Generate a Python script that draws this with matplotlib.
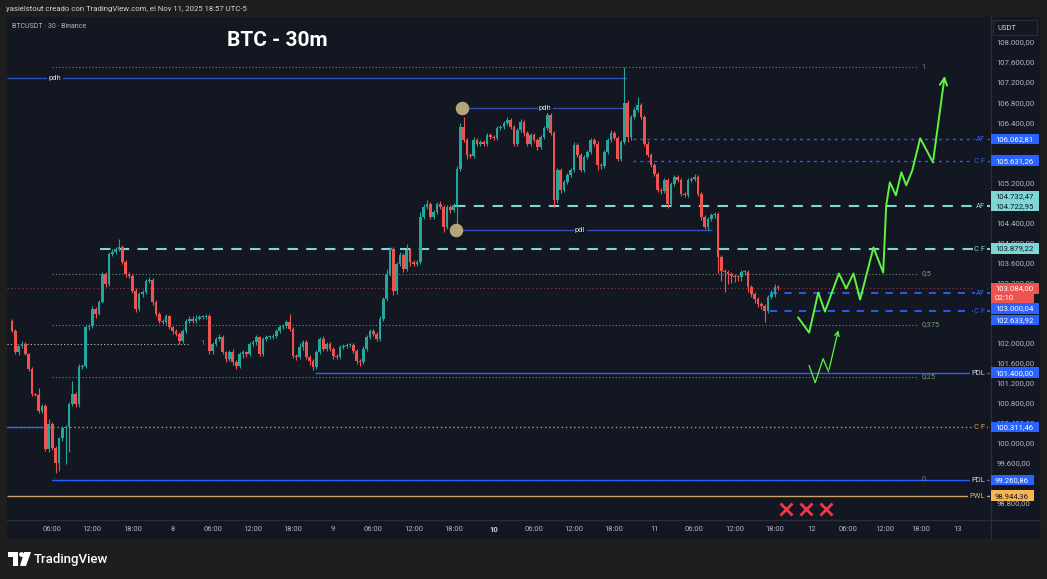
import numpy as np
import matplotlib.pyplot as plt
from matplotlib.patches import Rectangle, Polygon, Circle
from matplotlib.transforms import blended_transform_factory, offset_copy
from matplotlib.ticker import FixedLocator, FuncFormatter

plt.rcParams['font.family'] = ['Roboto', 'DejaVu Sans']

W, H = 1047, 579
OUTER = '#1e1e1e'
PANE = '#131722'
BORDER = '#2a2e39'
GREEN = '#26a69a'
RED = '#ef5350'
BLUE = '#2962ff'
CYAN = '#7fd6d6'
LIME = '#5df542'
TXT = '#b2b5be'

# velas de 30m, la primera abre el 7 nov 00:00 (hora = indice * 0.5)
first_open = 102440
closes = [
    102240, 101810, 101940, 101975, 101775, 101475, 100975, 100960, 100640, 100740,
    99875, 100375, 99905, 99605, 100105, 100305, 100320, 100775, 100975, 100775,
    101505, 101540, 102305, 102340, 102675, 102575, 102805, 103375, 103175, 103775,
    103805, 103875, 103905, 103605, 103375, 103340, 103040, 102675, 102975, 103005,
    103240, 103255, 102805, 102575, 102440, 102420, 102525, 102305, 102240, 102175,
    102040, 102240, 102440, 102475, 102440, 102475, 102505, 102520, 102525, 101840,
    101975, 102075, 102105, 101805, 101675, 101805, 101605, 101540, 101775, 101805,
    101775, 101975, 102005, 102105, 101775, 102075, 102105, 102110, 102140, 102240,
    102305, 102340, 102405, 102275, 101740, 101720, 101905, 102005, 101705, 101640,
    101505, 101805, 102075, 101875, 101975, 101875, 101740, 101705, 101905, 101940,
    101955, 101960, 101840, 101640, 101605, 101875, 102105, 102240, 102175, 102075,
    102475, 102875, 103375, 103875, 103040, 103575, 103740, 103475, 103840, 103605,
    103575, 103605, 104505, 104705, 104775, 104505, 104605, 104775, 104705, 104305,
    104705, 104640, 104740, 105475, 106305, 106040, 105740, 105720, 106040, 105975,
    106005, 105975, 106140, 106105, 106075, 106275, 106305, 106375, 106440, 106305,
    105975, 106240, 106405, 106175, 105975, 106140, 106040, 105905, 106105, 106275,
    106540, 106175, 104840, 105440, 105040, 105205, 105340, 105440, 105940, 105740,
    105440, 105705, 105805, 106040, 105975, 105540, 105520, 105805, 106040, 106175,
    106075, 105675, 106005, 106775, 106105, 106505, 106640, 106740, 106505, 105975,
    105740, 105540, 105375, 105040, 105020, 105240, 104775, 105175, 105305, 105240,
    104975, 104940, 105240, 105275, 105305, 104975, 104505, 104305, 104475, 104540,
    104575, 103700, 103440, 103405, 103375, 103340, 103320, 103305, 103405, 103420,
    103105, 102975, 102875, 102775, 102740, 102640, 102905, 102975, 103110, 103084,
]
upper_wick = [
    40, 30, 20, 60, 40, 20, 40, 20, 140, 30,
    40, 100, 40, 40, 20, 40, 30, 40, 265, 40,
    70, 40, 40, 30, 65, 40, 40, 30, 40, 40,
    60, 40, 168, 40, 40, 30, 40, 60, 40, 40,
    40, 60, 30, 40, 30, 30, 40, 30, 20, 40,
    30, 40, 40, 60, 60, 80, 40, 40, 40, 40,
    40, 40, 60, 40, 30, 40, 60, 40, 40, 40,
    30, 40, 40, 40, 30, 40, 40, 40, 40, 40,
    40, 40, 40, 165, 40, 40, 80, 40, 40, 40,
    40, 40, 40, 60, 40, 40, 40, 40, 40, 40,
    40, 40, 40, 40, 40, 60, 40, 40, 40, 40,
    60, 40, 100, 40, 40, 40, 60, 40, 120, 40,
    40, 40, 100, 60, 80, 40, 40, 40, 60, 40,
    40, 40, 40, 60, 80, 200, 40, 40, 60, 40,
    40, 40, 40, 40, 40, 40, 40, 40, 60, 40,
    40, 40, 60, 40, 40, 40, 40, 40, 40, 40,
    80, 40, 40, 40, 40, 40, 40, 40, 60, 40,
    40, 40, 40, 40, 40, 40, 40, 40, 40, 60,
    40, 40, 40, 725, 60, 40, 60, 160, 40, 40,
    40, 40, 40, 40, 40, 40, 40, 40, 40, 40,
    40, 40, 40, 40, 60, 40, 40, 40, 40, 40,
    40, 40, 40, 40, 40, 40, 40, 40, 40, 40,
    40, 40, 40, 40, 40, 40, 40, 80, 60, 40,
]
lower_wick = [
    20, 40, 60, 40, 30, 40, 30, 30, 40, 40,
    40, 60, 40, 205, 165, 60, 725, 500, 40, 60,
    60, 40, 40, 60, 40, 80, 30, 20, 60, 40,
    40, 40, 40, 40, 60, 40, 40, 60, 40, 60,
    40, 40, 60, 40, 40, 50, 40, 40, 60, 40,
    60, 40, 40, 40, 40, 40, 30, 40, 40, 60,
    60, 40, 40, 40, 60, 40, 60, 60, 40, 80,
    60, 40, 40, 60, 40, 40, 40, 40, 40, 40,
    40, 40, 40, 40, 40, 60, 40, 60, 40, 80,
    60, 40, 40, 40, 40, 40, 60, 40, 40, 40,
    40, 40, 40, 60, 80, 40, 40, 40, 40, 40,
    40, 40, 40, 40, 80, 60, 40, 60, 40, 80,
    40, 40, 40, 40, 40, 40, 40, 40, 40, 105,
    40, 60, 40, 500, 40, 40, 80, 40, 40, 40,
    40, 40, 40, 40, 40, 40, 40, 40, 40, 40,
    40, 40, 40, 60, 40, 40, 40, 60, 40, 40,
    40, 40, 140, 60, 60, 40, 40, 40, 40, 40,
    40, 40, 40, 40, 40, 100, 60, 40, 40, 40,
    40, 40, 40, 40, 100, 60, 40, 40, 40, 40,
    40, 40, 40, 40, 60, 40, 80, 40, 40, 40,
    40, 40, 40, 40, 40, 40, 60, 40, 60, 40,
    60, 300, 200, 400, 200, 150, 100, 80, 80, 60,
    100, 60, 80, 60, 60, 220, 40, 40, 60, 40,
]

# niveles fibonacci
fib_prices = [107500, 103380, 102350, 101320, 99260]
fib_labels = ['1', '0,5', '0,375', '0,25', '0']

# niveles dibujados
pdh_price = 107280
pdh2_price = 106680
pdl_price = 104240
af_cf_top = [106062.81, 105631.26]
af_cyan = 104722.95
cf_cyan = 103879.22
af_cf_low = [103000.04, 102633.92]
pdl_hi = 101400.00
cf_low = 100311.46
pdl_lo = 99260.86
pwl = 98944.36
last_price = 103084.00
old_fib_one = 101980

# proyeccion (hora desde el 7 nov 00:00, precio)
proj_h = [117.8, 119.6, 121.1, 122.2, 124.5, 125.7, 126.9, 128.0, 130.2, 131.8,
          132.3, 132.9, 133.9, 134.8, 135.6, 136.6, 137.9, 140.0, 142.0]
proj_p = [102500, 102200, 103000, 102620, 103380, 103080, 103380, 102860, 103900, 103400,
          104740, 105200, 104940, 105400, 105140, 105440, 106080, 105600, 107380]
alt_h = [119.6, 120.6, 121.9, 122.8, 124.5]
alt_p = [101540, 101200, 101680, 101420, 102300]
cross_h = [115.8, 119.1, 122.4]
cross_p = 98680

# etiquetas del eje de precios: precio, texto, fondo, color texto, desplazamiento px
price_tags = [
    (106062.81, '106.062,81', BLUE, 'white', 0),
    (105631.26, '105.631,26', BLUE, 'white', 0),
    (104732.47, '104.732,47', CYAN, '#131722', 10),
    (104722.95, '104.722,95', CYAN, '#131722', 0),
    (103879.22, '103.879,22', CYAN, '#131722', 0),
    (103084.00, '103.084,00', RED, 'white', 0),
    (103084.00, '02:10', RED, 'white', -10),
    (103000.04, '103.000,04', BLUE, 'white', -16),
    (102633.92, '102.633,92', BLUE, 'white', -9),
    (101400.00, '101.400,00', BLUE, 'white', 0),
    (100311.46, '100.311,46', BLUE, 'white', 0),
    (99260.86, '99.260,86', BLUE, 'white', 0),
    (98944.36, '98.944,36', '#f6b552', '#131722', 0),
]
price_ticks = [108000, 107600, 107200, 106800, 106400, 105200, 104400, 104000, 103600,
               103200, 102000, 101600, 101200, 100800, 100400, 100000, 99600, 98800]

# TradingView comprime la zona futura (despues de la ultima vela)
LAST_H = 114.5
FUTURE_K = 0.907


def fwd(h):
    h = np.asarray(h, dtype=float)
    return np.where(h <= LAST_H, h, LAST_H + (h - LAST_H) * FUTURE_K)


def inv(u):
    u = np.asarray(u, dtype=float)
    return np.where(u <= LAST_H, u, LAST_H + (u - LAST_H) / FUTURE_K)


def eu(v):
    s = f'{v:,.2f}'
    return s.replace(',', '_').replace('.', ',').replace('_', '.')


fig = plt.figure(figsize=(W / 100, H / 100), dpi=100, facecolor=OUTER)

bg = fig.add_axes([0, 0, 1, 1], zorder=0)
bg.set_xlim(0, W)
bg.set_ylim(H, 0)
bg.axis('off')
bg.add_patch(Rectangle((7, 17), 1033, 522, fc=PANE, ec='none'))
bg.plot([990.5, 990.5], [17, 539], color=BORDER, lw=1)
bg.plot([7, 1040], [520, 520], color=BORDER, lw=1)

ax_px = (983, 502)
ax = fig.add_axes([7 / W, (H - 519) / H, ax_px[0] / W, ax_px[1] / H], zorder=1, facecolor=PANE)
for sp in ax.spines.values():
    sp.set_visible(False)
ax.set_xscale('function', functions=(fwd, inv))
X0, X1 = -0.75, 149.4
ax.set_xlim(X0, X1)
ax.set_ylim(98480, 108500)
per_px = (108500 - 98480) / ax_px[1]

# velas
c = np.array(closes, dtype=float)
o = np.r_[first_open, c[:-1]]
x = np.arange(len(c)) * 0.5
hi = np.maximum(o, c) + np.array(upper_wick)
lo = np.minimum(o, c) - np.array(lower_wick)
cols = np.where(c >= o, GREEN, RED)
ax.vlines(x, lo, hi, colors=cols, lw=0.8, zorder=3)
ax.bar(x, np.maximum(np.abs(c - o), 18), bottom=np.minimum(o, c), width=0.4,
       color=cols, lw=0, zorder=3)

# niveles
dot = (0, (1, 2))
ax.hlines(last_price, X0, X1, colors='#8a3344', lw=0.9, linestyles=dot, zorder=2)
ax.hlines(fib_prices[0], 6.0, 137.6, colors='#787b86', lw=0.8, linestyles=dot, zorder=2)
ax.hlines(fib_prices[4], 6.0, 137.6, colors='#787b86', lw=0.8, linestyles=dot, zorder=2)
for p in fib_prices[1:4]:
    ax.hlines(p, 6.0, 137.6, colors='#6e8a6e', lw=0.8, linestyles=dot, zorder=2)
for p, lab in zip(fib_prices, fib_labels):
    col = '#787b86' if lab in ('1', '0') else '#7a9f76'
    ax.text(138.1, p, lab, color=col, fontsize=5.3, ha='left', va='center', zorder=4)
ax.hlines(old_fib_one, X0, 26.6, colors='#c8c8c8', lw=0.8, linestyles=dot, zorder=2)
ax.text(28.1, old_fib_one, '1', color='#787b86', fontsize=5.3, ha='left', va='center')

lab_box = dict(fc=PANE, ec='none', pad=1)
ax.hlines(pdh_price, X0, 91.9, colors='#2f4fb8', lw=1, zorder=2)
ax.text(6.4, pdh_price, 'pdh', color='#d1d4dc', fontsize=5.5, ha='center', va='center',
        bbox=lab_box, zorder=4)
ax.hlines(pdh2_price, 67.4, 91.6, colors='#2f4fb8', lw=1, zorder=2)
ax.text(79.7, pdh2_price, 'pdh', color='#d1d4dc', fontsize=5.5, ha='center', va='center',
        bbox=lab_box, zorder=4)
ax.hlines(pdl_price, 66.4, 104.6, colors='#2f4fb8', lw=1, zorder=2)
ax.text(84.9, pdl_price, 'pdl', color='#d1d4dc', fontsize=5.5, ha='center', va='center',
        bbox=lab_box, zorder=4)
ax.scatter([67.3, 66.4], [pdh2_price, pdl_price], s=95, color='#b5a67a', zorder=5, lw=0)

for p in af_cf_top:
    ax.hlines(p, 92.8, X1, colors=BLUE, lw=1, linestyles=(0, (2, 3)), zorder=2)
ax.hlines(af_cyan, 66.2, X1, colors=CYAN, lw=1.5, linestyles=(0, (5, 4)), zorder=2)
ax.hlines(cf_cyan, 13.2, X1, colors=CYAN, lw=1.5, linestyles=(0, (5, 4)), zorder=2)
for p in af_cf_low:
    ax.hlines(p, 113.3, X1, colors=BLUE, lw=1.3, linestyles=(0, (4, 4)), zorder=2)
ax.hlines(pdl_hi, 45.3, X1, colors=BLUE, lw=1, zorder=2)
ax.hlines(cf_low, X0, X1, colors='#8fa86a', lw=1, linestyles=dot, zorder=2)
ax.hlines(cf_low, X0, 4.6, colors=BLUE, lw=1, zorder=2)
ax.hlines(pdl_lo, 6.0, X1, colors=BLUE, lw=1, zorder=2)
ax.hlines(pwl, X0, X1, colors='#c9a46a', lw=1, zorder=2)

right_tags = [
    (af_cf_top[0], 'AF', BLUE), (af_cf_top[1], 'C F', BLUE),
    (af_cyan, 'AF', CYAN), (cf_cyan, 'C F', CYAN),
    (af_cf_low[0], 'AF', BLUE), (af_cf_low[1], 'C F', BLUE),
    (pdl_hi, 'PDL', '#d1d4dc'), (cf_low, 'C F', '#d9a441'),
    (pdl_lo, 'PDL', '#d1d4dc'), (pwl, 'PWL', '#d9b070'),
]
for p, lab, col in right_tags:
    ax.text(148.6, p, lab, color=col, fontsize=5.5, ha='right', va='center',
            bbox=lab_box, zorder=4)

# proyeccion
ax.plot(proj_h[:-1], proj_p[:-1], color=LIME, lw=1.4, zorder=6)
ax.annotate('', xy=(proj_h[-1], proj_p[-1]), xytext=(proj_h[-2], proj_p[-2]),
            arrowprops=dict(arrowstyle='->', color=LIME, lw=1.4, mutation_scale=13), zorder=6)
ax.plot(alt_h[:-1], alt_p[:-1], color=LIME, lw=0.9, zorder=6)
ax.annotate('', xy=(alt_h[-1], alt_p[-1]), xytext=(alt_h[-2], alt_p[-2]),
            arrowprops=dict(arrowstyle='->', color=LIME, lw=0.9, mutation_scale=8), zorder=6)
ax.plot(cross_h, [cross_p] * len(cross_h), ls='none', marker='x', ms=8, mew=2,
        color='#f23645', zorder=6)

# ejes
xt = list(range(6, 145, 6))
xl = [str(7 + t // 24) if t % 24 == 0 else f'{t % 24:02d}:00' for t in xt]
ax.xaxis.set_major_locator(FixedLocator(xt))
ax.xaxis.set_minor_locator(FixedLocator([]))
ax.set_xticklabels(xl)
ax.tick_params(axis='x', which='both', length=0, pad=5, labelsize=5.5, colors=TXT)
for t, lab in zip(xt, ax.get_xticklabels()):
    if t == 72:
        lab.set_fontweight('bold')
        lab.set_color('#d1d4dc')

ax.yaxis.tick_right()
ax.yaxis.set_major_locator(FixedLocator(price_ticks))
ax.yaxis.set_major_formatter(FuncFormatter(lambda v, _: eu(v)))
ax.tick_params(axis='y', length=0, pad=4.5, labelsize=5.6, colors=TXT)

blend = blended_transform_factory(ax.transAxes, ax.transData)
bx0 = (991 - 7) / ax_px[0]
hpx = 10.5
for p, txt, fc, tc, dy in price_tags:
    tr = offset_copy(blend, fig=fig, y=dy * 0.72, units='points')
    wbox = (48 if len(txt) > 9 else 43) / ax_px[0]
    ax.add_patch(Rectangle((bx0, p - hpx / 2 * per_px), wbox, hpx * per_px, transform=tr,
                           fc=fc, ec='none', clip_on=False, zorder=8))
    ax.text((995 - 7) / ax_px[0], p, txt, transform=tr, color=tc, fontsize=5.6,
            ha='left', va='center', clip_on=False, zorder=9)

top = fig.add_axes([0, 0, 1, 1], zorder=3)
top.patch.set_visible(False)
top.set_xlim(0, W)
top.set_ylim(H, 0)
top.axis('off')
top.text(6, 9.5, 'yasielstout creado con TradingView.com, el Nov 11, 2025 18:57 UTC-5',
         color='#d1d4dc', fontsize=5.6, ha='left', va='center')
top.text(12, 27, 'BTCUSDT · 30 · Binance', color=TXT, fontsize=5, ha='left', va='center')
top.text(227, 40, 'BTC - 30m', color='white', fontsize=15, fontweight='bold',
         ha='left', va='center')
top.add_patch(Rectangle((993, 20), 44, 15, fc=PANE, ec=BORDER, lw=0.8))
top.text(998, 27.5, 'USDT', color='#d1d4dc', fontsize=5.5, ha='left', va='center')

# logo TradingView
top.add_patch(Polygon([(8, 552), (18, 552), (18, 566), (13, 566), (13, 557), (8, 557)],
                      closed=True, fc='white', ec='none'))
top.add_patch(Circle((21.5, 554.5), 2.4, fc='white', ec='none'))
top.add_patch(Polygon([(24, 552), (31, 552), (26, 566), (20, 566)],
                      closed=True, fc='white', ec='none'))
top.text(34, 559, 'TradingView', color='white', fontsize=9.5, fontweight='medium',
         ha='left', va='center')

fig.savefig('out.png', dpi=100, facecolor=OUTER)
